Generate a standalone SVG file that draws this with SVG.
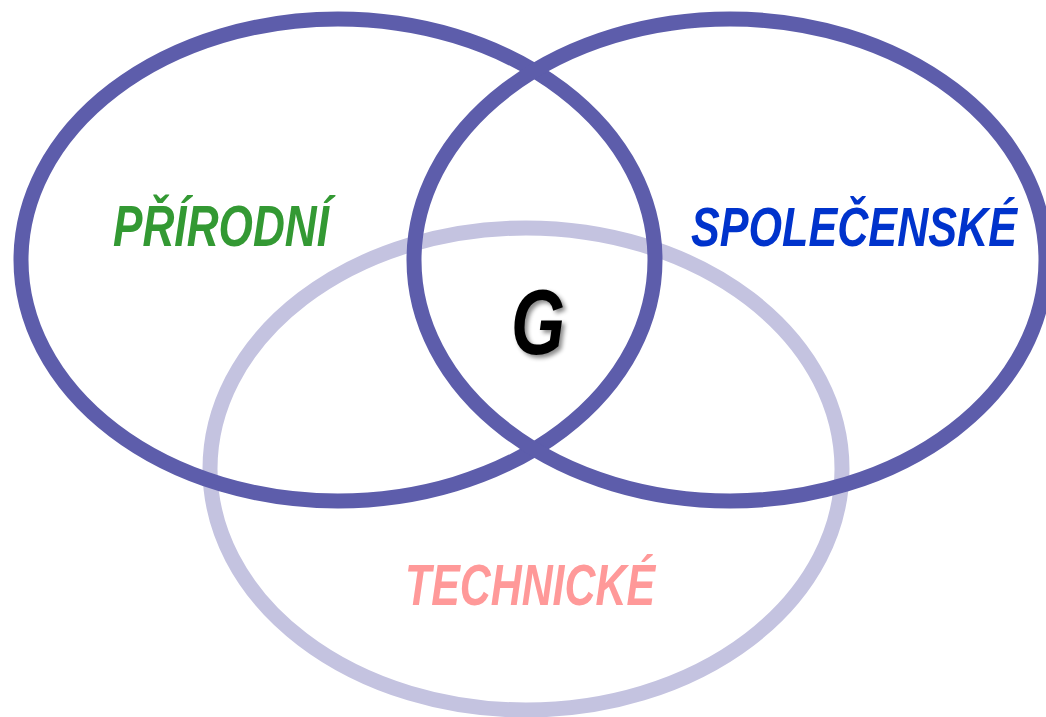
<svg xmlns="http://www.w3.org/2000/svg" width="1046" height="717" viewBox="0 0 1046 717">
<style>
.ring{fill:none;stroke-width:15}
.dark{stroke:#5d5dab}
.light{stroke:#c4c3e0}
.lbl{font-family:"Liberation Sans",Arial,sans-serif;font-weight:bold;font-style:italic;text-anchor:middle}
</style>
<defs>
<filter id="sh" x="-30%" y="-30%" width="160%" height="160%">
<feDropShadow dx="3" dy="3" stdDeviation="2" flood-color="#000" flood-opacity="0.45"/>
</filter>
</defs>
<rect width="1046" height="717" fill="#fff"/>
<g id="technicke">
<ellipse class="ring light" cx="526" cy="469" rx="316" ry="241"/>
</g>
<g id="prirodni">
<ellipse class="ring dark" cx="338" cy="260" rx="317" ry="241"/>
</g>
<g id="spolecenske">
<ellipse class="ring dark" cx="730" cy="260" rx="316" ry="241"/>
</g>
<g id="connectors"></g>
<g id="labels">
<text class="lbl" x="221" y="246" font-size="58" fill="#339933" textLength="216" lengthAdjust="spacingAndGlyphs">PŘÍRODNÍ</text>
<text class="lbl" x="854" y="246" font-size="55" fill="#0033cc" textLength="326" lengthAdjust="spacingAndGlyphs">SPOLEČENSKÉ</text>
<text class="lbl" x="530" y="605" font-size="58" fill="#ff9999" textLength="250" lengthAdjust="spacingAndGlyphs">TECHNICKÉ</text>
<text class="lbl" x="538" y="354" font-size="93" fill="#000" textLength="54" lengthAdjust="spacingAndGlyphs" filter="url(#sh)">G</text>
</g>
</svg>
